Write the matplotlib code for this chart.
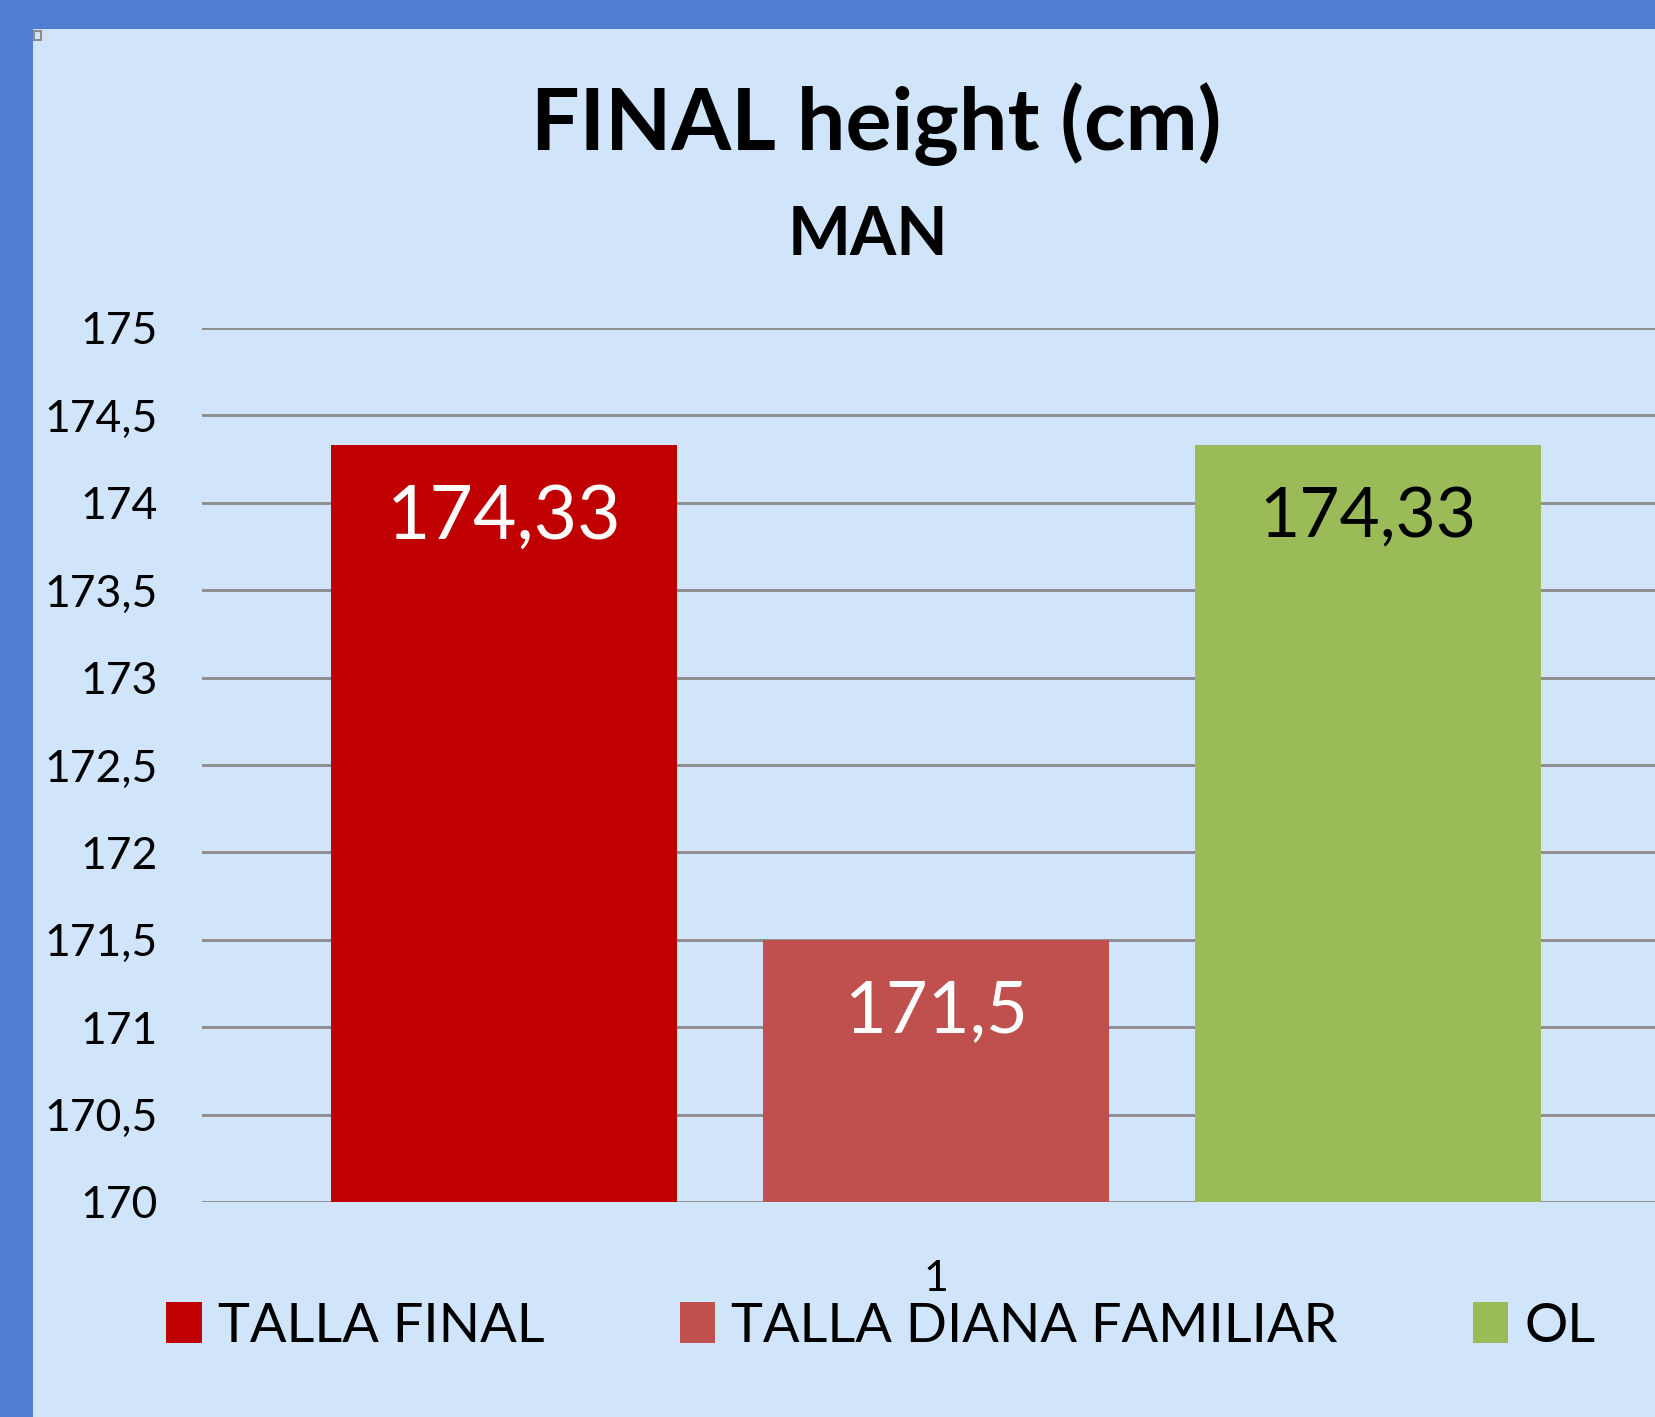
"""
Final height chart (MAN): talla final vs talla diana familiar vs OL.
"""

import matplotlib
matplotlib.use("Agg")
import matplotlib.pyplot as plt
from matplotlib.patches import Rectangle, Patch
from matplotlib.ticker import FuncFormatter, MultipleLocator

plt.rcParams['font.family'] = ['Lato', 'DejaVu Sans']

# data
series = ['TALLA FINAL', 'TALLA DIANA FAMILIAR', 'OL']
values = [174.33, 171.5, 174.33]
colors = ['#C00000', '#C0504D', '#9BBB59']
label_colors = ['white', 'white', 'black']
label_sizes = [54, 52, 50]
category = ['1']

W, H = 1655, 1417
fig = plt.figure(figsize=(W / 100, H / 100), dpi=100)
fig.patch.set_facecolor('#507DD2')

# light chart panel inside the blue frame
panel = Rectangle((33 / W, 0), 1 - 33 / W, 1 - 29 / H, transform=fig.transFigure,
                  facecolor='#D0E4FA', edgecolor='none', zorder=-2)
fig.patches.append(panel)
handle = Rectangle((34 / W, 1 - 40 / H), 7 / W, 9 / H, transform=fig.transFigure,
                   facecolor='none', edgecolor='#8C8C8C', linewidth=1.5, zorder=-1)
fig.patches.append(handle)

# axes run a bit past the right edge, as in the original screenshot
left, right = 202, 1670
top, bottom = 328, 1202
ax = fig.add_axes([left / W, 1 - bottom / H, (right - left) / W, (bottom - top) / H])
ax.set_facecolor('none')
ax.set_zorder(2)

offsets = [-0.2943, 0.0, 0.2943]
bar_w = 0.2357
for i, (name, v) in enumerate(zip(series, values)):
    x = 1 + offsets[i]
    ax.bar(x, v - 170, bottom=170, width=bar_w, color=colors[i], zorder=3)
    ax.annotate(f"{v:g}".replace('.', ','), xy=(x, v), xytext=(0, -52),
                textcoords='offset points', ha='center', va='center',
                fontsize=label_sizes[i], color=label_colors[i], zorder=4)

ax.set_xlim(0.5, 1.5)
ax.set_ylim(170, 175)
ax.yaxis.set_major_locator(MultipleLocator(0.5))
ax.yaxis.set_major_formatter(FuncFormatter(lambda y, _: f"{y:g}".replace('.', ',')))
ax.set_xticks([1])
ax.set_xticklabels(category)
ax.tick_params(axis='y', length=0, pad=32, labelsize=32)
ax.tick_params(axis='x', length=0, pad=42, labelsize=31)
ax.grid(axis='y', color='#8A8A8A', linewidth=2, zorder=1)
for s in ax.spines.values():
    s.set_visible(False)

fig.text(876 / W, 1 - 124 / H, 'FINAL height (cm)', ha='center', va='center',
         fontsize=62, fontweight='bold')
fig.text(868 / W, 1 - 236 / H, 'MAN', ha='center', va='center',
         fontsize=48, fontweight='bold')

handles = [Patch(facecolor=c, edgecolor='none') for c in colors]
fig.legend(handles, series, loc='center', bbox_to_anchor=(881 / W, 1 - 1326 / H),
           ncol=3, frameon=False, fontsize=39, handlelength=0.65, handleheight=0.78,
           handletextpad=0.3, columnspacing=2.5, borderaxespad=0)

fig.savefig('out.png', dpi=100, facecolor=fig.get_facecolor())
